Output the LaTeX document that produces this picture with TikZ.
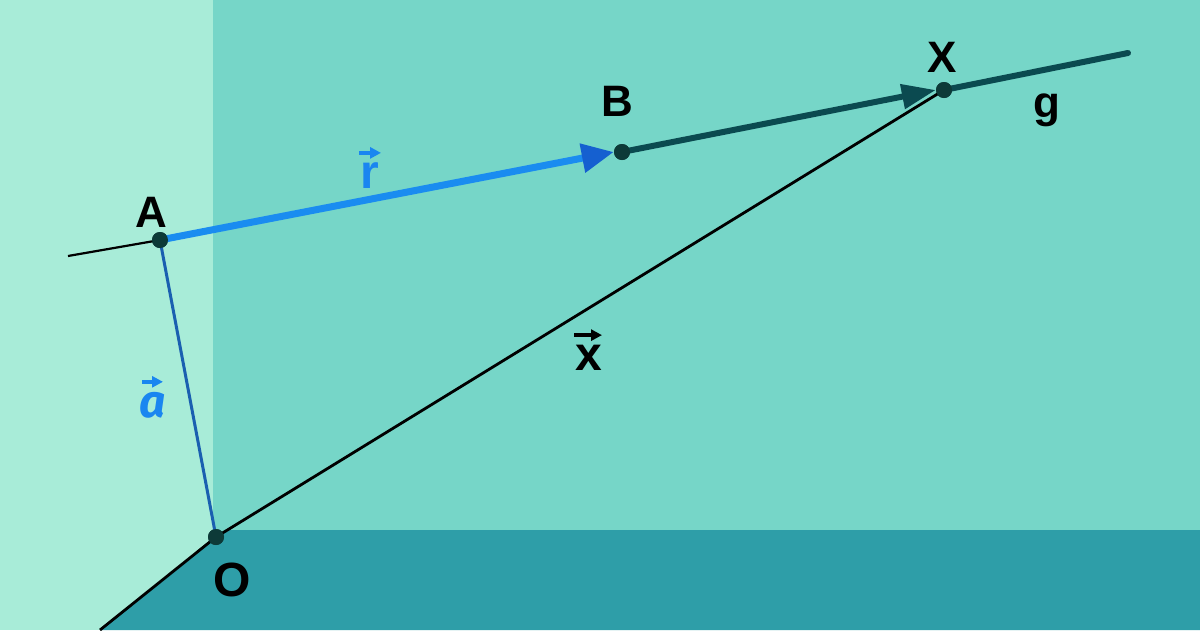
\documentclass[tikz,border=0pt]{standalone}
\usepackage{fontspec}
\setmainfont{Liberation Sans}
\newfontfamily\firabi{Fira Sans}[UprightFont=* Bold Italic]
\usetikzlibrary{arrows.meta}
\definecolor{lightbg}{HTML}{A8ECD8}
\definecolor{mainbg}{HTML}{76D6C8}
\definecolor{darkbg}{HTML}{2E9EA8}
\definecolor{vblue}{HTML}{1A8CF0}
\definecolor{vbluehead}{HTML}{1560D0}
\definecolor{ablue}{HTML}{1A5FB0}
\definecolor{gline}{HTML}{0B4A50}
\definecolor{dotc}{HTML}{0D3A38}
\definecolor{lblblue}{HTML}{1A86F0}
\tikzset{
  pt/.style={circle,fill=dotc,inner sep=0pt,minimum size=16pt},
  lbl/.style={font=\fontsize{44}{44}\selectfont\bfseries,text=black,inner sep=0pt},
  veclbl/.style={font=\fontsize{48}{48}\selectfont\bfseries,inner sep=0pt},
  vecarrow/.style={line width=3.5pt,-{Triangle[length=11pt,width=11pt]}},
}
\begin{document}
\begin{tikzpicture}[x=1pt,y=-1pt]
\useasboundingbox (0,0) rectangle (1200,630);
\fill[mainbg] (0,0) rectangle (1200,630);
\fill[lightbg] (0,0) rectangle (213,630);
\fill[darkbg] (100,630) -- (216,537) -- (225,530) -- (1200,530) -- (1200,630) -- cycle;
% points
\coordinate (gL) at (68,256);
\coordinate (gR) at (1128,53);
\coordinate (xL) at (100,630);
\node[pt] (A) at (160,240) {};
\node[pt] (B) at (622,152) {};
\node[pt] (X) at (944,90) {};
\node[pt] (O) at (216,537) {};
% lines
\draw[black,line width=2.2pt] (gL) -- (A.center);
\draw[ablue,line width=3pt] (A.center) -- (O.center);
\draw[black,line width=2.8pt] (xL) -- (O.center) -- (X.center);
\draw[gline,line width=6pt,line cap=round] (X.center) -- (gR);
\draw[gline,line width=6pt,-{Triangle[length=34pt,width=24pt]}] (B.center) -- (X.west);
\draw[vblue,line width=7pt,-{Triangle[length=32pt,width=28pt,color=vbluehead]}] (A.center) -- (B.west);
% redraw dots on top
\node[pt] at (A) {};
\node[pt] at (B) {};
\node[pt] at (X) {};
\node[pt] at (O) {};
% labels
\node[lbl] (lA) at (151,212) {A};
\node[lbl] (lB) at (617,101) {B};
\node[lbl] (lX) at (942,57) {X};
\node[lbl] (lg) at (1047,110) {g};
\node[lbl,font=\fontsize{48}{48}\selectfont\bfseries] (lO) at (232,580) {O};
\node[veclbl,text=lblblue] (lr) at (370,176) {r};
\draw[lblblue,vecarrow] ([xshift=-11pt,yshift=10pt]lr.north) -- ([xshift=11pt,yshift=10pt]lr.north);
\node[veclbl,text=black] (lx) at (589,358) {x};
\draw[black,vecarrow] ([xshift=-15pt,yshift=10pt]lx.north) -- ([xshift=13pt,yshift=10pt]lx.north);
\node[veclbl,text=lblblue,font=\fontsize{46}{46}\firabi] (la) at (153,405) {a};
\draw[lblblue,vecarrow] ([xshift=-11pt,yshift=10pt]la.north) -- ([xshift=10pt,yshift=10pt]la.north);
\end{tikzpicture}
\end{document}
